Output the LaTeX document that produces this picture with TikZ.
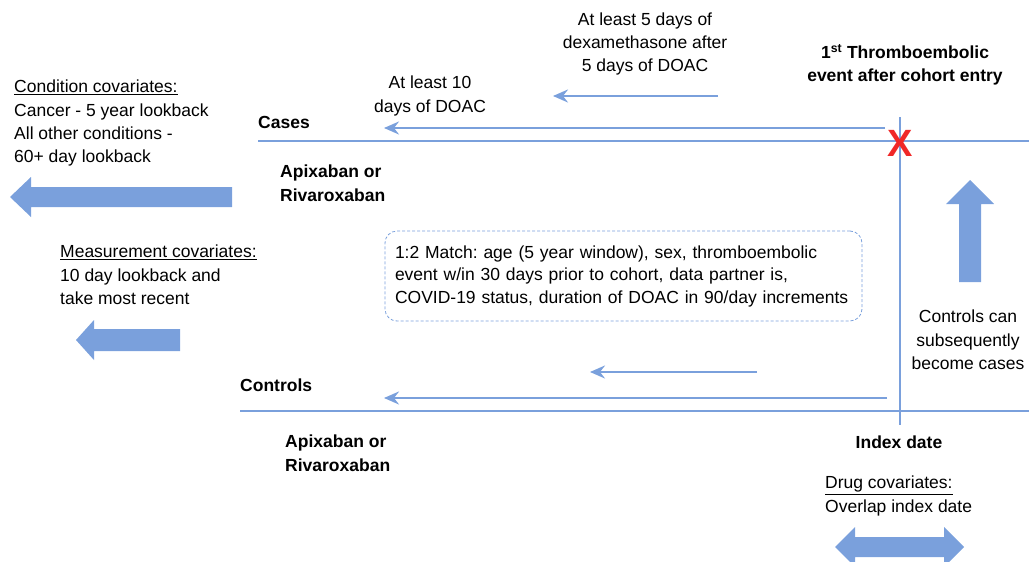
\documentclass[tikz,border=0pt]{standalone}
\usepackage{fontspec}
\setmainfont{Liberation Sans}
\usetikzlibrary{arrows.meta}

\definecolor{tlblue}{RGB}{122,160,220}
\definecolor{xred}{RGB}{240,40,40}

\begin{document}
\frenchspacing
\begin{tikzpicture}[x=1pt,y=-1pt,
  txt/.style={inner sep=0pt, align=left, font=\fontsize{17.5}{23.3}\selectfont},
  ctxt/.style={txt, align=center},
  btxt/.style={inner sep=0pt, align=left, font=\fontsize{17.5}{23.3}\selectfont\bfseries},
  tline/.style={tlblue, line width=2.4pt},
  tarrow/.style={tlblue, line width=2.2pt, -{Stealth[length=15pt,width=13pt,inset=5pt]}},
  fatarrow/.style={fill=tlblue, draw=none},
  matchbox/.style={draw=tlblue, line width=0.8pt, dash pattern=on 3pt off 2pt, rounded corners=12pt,
    text width=457pt, inner xsep=10pt, inner ysep=0pt, minimum height=90pt, align=left,
    font=\fontsize{17.5}{22.5}\selectfont}]
\useasboundingbox (0,0) rectangle (1029,562);

\coordinate (caseL) at (258,141); \coordinate (caseR) at (1029,141);
\coordinate (ctrlL) at (240,411); \coordinate (ctrlR) at (1029,411);
\coordinate (idxT) at (900,117);  \coordinate (idxB) at (900,425);
\draw[tline] (caseL) -- (caseR);
\draw[tline] (ctrlL) -- (ctrlR);
\draw[tline, line width=2pt] (idxT) -- (idxB);

\coordinate (caseS) at (885,128); \coordinate (caseE) at (384,128);
\coordinate (dexS) at (718,96);   \coordinate (dexE) at (553,96);
\coordinate (ctrlS) at (887,398); \coordinate (ctrlE) at (384,398);
\coordinate (ctrlS2) at (757,372); \coordinate (ctrlE2) at (590,372);
\draw[tarrow] (caseS) -- (caseE);
\draw[tarrow] (dexS) -- (dexE);
\draw[tarrow] (ctrlS) -- (ctrlE);
\draw[tarrow] (ctrlS2) -- (ctrlE2);

\node[text=xred, inner sep=0pt, font=\fontsize{38}{38}\selectfont\bfseries] (evX) at (900,143) {X};

\fill[fatarrow] (232,187) -- (31,187) -- (31,177) -- (10,197) -- (31,217) -- (31,207) -- (232,207) -- cycle;
\fill[fatarrow] (180,329) -- (94,329) -- (94,320) -- (76,340) -- (94,360) -- (94,351) -- (180,351) -- cycle;
\fill[fatarrow] (959,282) -- (959,204) -- (946,204) -- (970,180) -- (994,204) -- (981,204) -- (981,282) -- cycle;
\fill[fatarrow] (835,547) -- (855,527) -- (855,537) -- (944,537) -- (944,527) -- (964,547) -- (944,567) -- (944,557) -- (855,557) -- (855,567) -- cycle;

\node[txt, anchor=north west] (condCov) at (14,80) {\underline{Condition covariates:}\\Cancer - 5 year lookback\\All other conditions -\\60+ day lookback};
\node[txt, anchor=north west] (measCov) at (60,245) {\underline{Measurement covariates:}\\10 day lookback and\\take most recent};
\node[txt, anchor=north west] (drugCov) at (825,476) {\underline{Drug covariates:}\\Overlap index date};

\node[btxt, anchor=west] (cases) at (258,122) {Cases};
\node[btxt, anchor=west] (controls) at (240,385) {Controls};
\node[btxt, anchor=north west] (drugCase) at (280,165) {Apixaban or\\Rivaroxaban};
\node[btxt, anchor=north west] (drugCtrl) at (285,435) {Apixaban or\\Rivaroxaban};
\node[btxt, align=center] (event) at (905,65) {1\textsuperscript{st} Thromboembolic\\event after cohort entry};
\node[btxt] (index) at (899,442) {Index date};

\node[ctxt] (doac) at (430,96) {At least 10\\days of DOAC};
\node[ctxt] (dexa) at (645,44) {At least 5 days of\\dexamethasone after\\5 days of DOAC};
\node[ctxt] (ctrlCases) at (968,340) {Controls can\\subsequently\\become cases};

\node[matchbox] (match) at (623.5,276) {1:2 Match: age (5 year window), sex, thromboembolic\\event w/in 30 days prior to cohort, data partner is,\\COVID-19 status, duration of DOAC in 90/day increments};
\end{tikzpicture}
\end{document}
